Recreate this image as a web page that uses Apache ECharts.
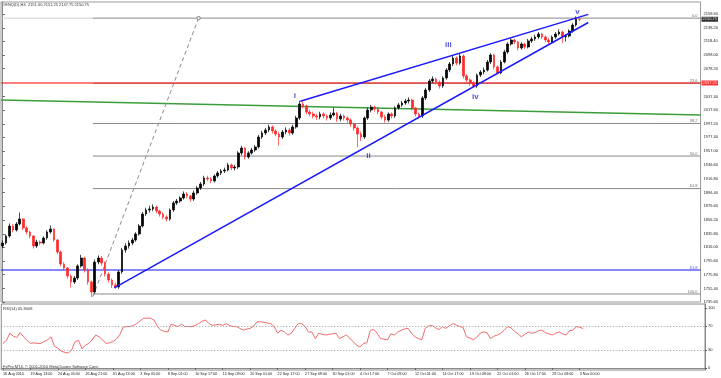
<!DOCTYPE html>
<html><head><meta charset="utf-8">
<script src="https://cdn.jsdelivr.net/npm/echarts@6/dist/echarts.min.js"></script>
<style>html,body{margin:0;padding:0;background:#fff}#c{width:721px;height:378px}</style>
</head><body><div id="c"></div>
<script>
const titleText = '#ENQ(D),H4  2151.00 2151.25 2147.75 2150.75';
const rsiTitle = 'RSI(14) 65.8008';
const copyright = 'FxPro MT4, \u00a9 2001-2010 MetaQuotes Software Corp.';
const timeLabels = ['16 Aug 2010','19 Aug 13:00','24 Aug 05:00','26 Aug 21:00','31 Aug 13:00','3 Sep 05:00','8 Sep 01:00','10 Sep 17:00','15 Sep 09:00','20 Sep 01:00','22 Sep 17:00','27 Sep 09:00','30 Sep 01:00','4 Oct 17:00','7 Oct 09:00','12 Oct 01:00','14 Oct 17:00','19 Oct 09:00','22 Oct 01:00','26 Oct 17:00','29 Oct 09:00','3 Nov 00:00'];
const labelEvery = 8;
const slotCount = 205;
const priceTicks = [2158.60,2138.20,2118.40,2098.00,2078.20,2037.40,2017.60,1997.20,1977.40,1957.00,1936.60,1916.80,1896.40,1876.60,1856.20,1835.80,1816.00,1795.60,1775.80,1755.40,1735.60];
const rsiTicks = [0,30,70,100];
const rsiLevels = [70,30];

const opens = [1818.0,1822.2,1832.5,1847.2,1841.3,1850.1,1857.5,1844.3,1838.4,1832.5,
1817.8,1823.7,1822.2,1829.6,1838.4,1842.8,1826.6,1809.0,1791.4,1785.5,
1773.8,1765.0,1770.8,1788.5,1800.2,1782.6,1765.0,1750.3,1794.3,1800.2,
1792.9,1776.7,1767.9,1760.6,1757.6,1779.7,1812.0,1817.8,1822.2,1826.6,
1835.5,1847.2,1864.8,1870.7,1872.2,1875.1,1869.2,1864.8,1860.4,1857.5,
1870.7,1881.0,1883.9,1888.3,1894.2,1891.3,1886.8,1895.7,1903.0,1908.9,
1917.7,1916.2,1913.3,1920.6,1925.0,1928.0,1929.4,1936.8,1932.4,1933.8,
1954.4,1961.7,1948.5,1954.4,1958.8,1963.2,1977.9,1983.8,1988.2,1992.6,
1986.7,1982.3,1977.9,1985.2,1988.2,1983.8,1992.6,2005.8,2026.3,2023.4,
2014.6,2011.7,2008.7,2007.3,2011.7,2008.7,2005.8,2010.2,2013.1,2004.3,
2008.7,2005.8,2002.8,1997.0,1991.1,1982.3,1977.9,2005.8,2017.5,2021.9,
2019.0,2014.6,2007.3,2002.8,2011.7,2008.7,2020.5,2024.9,2027.8,2030.7,
2032.2,2020.5,2011.7,2008.7,2035.2,2046.9,2060.1,2063.1,2058.6,2052.8,
2064.5,2076.3,2085.1,2093.9,2086.5,2096.8,2067.5,2061.6,2057.2,2052.8,
2068.9,2073.3,2076.3,2088.0,2098.3,2080.7,2071.9,2088.0,2102.7,2114.4,
2120.3,2117.4,2108.6,2114.4,2110.0,2118.9,2121.8,2124.7,2129.1,2124.7,
2120.3,2117.4,2124.7,2129.1,2132.1,2125.0,2126.2,2133.5,2142.3,2151.0];
const closes = [1822.2,1832.5,1847.2,1841.3,1850.1,1857.5,1844.3,1838.4,1832.5,1817.8,
1823.7,1822.2,1829.6,1838.4,1842.8,1826.6,1809.0,1791.4,1785.5,1773.8,
1765.0,1770.8,1788.5,1800.2,1782.6,1765.0,1750.3,1794.3,1800.2,1792.9,
1776.7,1767.9,1760.6,1757.6,1779.7,1812.0,1817.8,1822.2,1826.6,1835.5,
1847.2,1864.8,1870.7,1872.2,1875.1,1869.2,1864.8,1860.4,1857.5,1870.7,
1881.0,1883.9,1888.3,1894.2,1891.3,1886.8,1895.7,1903.0,1908.9,1917.7,
1916.2,1913.3,1920.6,1925.0,1928.0,1929.4,1936.8,1932.4,1933.8,1954.4,
1961.7,1948.5,1954.4,1958.8,1963.2,1977.9,1983.8,1988.2,1992.6,1986.7,
1982.3,1977.9,1985.2,1988.2,1983.8,1992.6,2005.8,2026.3,2023.4,2014.6,
2011.7,2008.7,2007.3,2011.7,2008.7,2005.8,2010.2,2013.1,2004.3,2008.7,
2005.8,2002.8,1997.0,1991.1,1982.3,1977.9,2005.8,2017.5,2021.9,2019.0,
2014.6,2007.3,2002.8,2011.7,2008.7,2020.5,2024.9,2027.8,2030.7,2032.2,
2020.5,2011.7,2008.7,2035.2,2046.9,2060.1,2063.1,2058.6,2052.8,2064.5,
2076.3,2085.1,2093.9,2086.5,2096.8,2067.5,2061.6,2057.2,2052.8,2068.9,
2073.3,2076.3,2088.0,2098.3,2080.7,2071.9,2088.0,2102.7,2114.4,2120.3,
2117.4,2108.6,2114.4,2110.0,2118.9,2121.8,2124.7,2129.1,2124.7,2120.3,
2117.4,2124.7,2129.1,2132.1,2125.0,2126.2,2133.5,2142.3,2151.0,2150.75];
const highs = [1826,1835,1851,1850,1853,1867,1859,1847,1840,1834,
1827,1826,1832,1841,1848,1844,1828,1811,1794,1787,
1776,1774,1791,1805,1802,1785,1767,1798,1804,1803,
1795,1779,1770,1764,1782,1815,1822,1826,1830,1838,
1850,1868,1874,1877,1879,1877,1871,1867,1863,1873,
1884,1887,1891,1898,1897,1893,1899,1906,1912,1921,
1921,1919,1923,1928,1931,1933,1940,1939,1937,1957,
1965,1963,1957,1962,1966,1981,1987,1991,1996,1995,
1989,1985,1988,1992,1991,1996,2009,2031,2030,2025,
2018,2015,2012,2015,2014,2011,2014,2021,2015,2012,
2011,2008,2005,1999,1993,1986,2008,2021,2025,2024,
2021,2016,2010,2014,2014,2023,2028,2031,2034,2036,
2034,2022,2014,2038,2050,2063,2067,2065,2061,2067,
2079,2088,2097,2096,2101,2099,2070,2064,2060,2071,
2076,2080,2091,2101,2100,2083,2091,2106,2117,2123,
2122,2119,2117,2116,2122,2125,2128,2132,2131,2127,
2123,2127,2132,2136,2134,2129,2136,2145,2155,2151.25];
const lows = [1815,1820,1830,1838,1839,1848,1841,1835,1829,1814,
1815,1819,1820,1827,1836,1824,1806,1788,1782,1770,
1757,1762,1768,1786,1779,1761,1743,1748,1791,1789,
1773,1764,1756,1755,1755,1777,1808,1814,1819,1824,
1833,1845,1862,1867,1869,1866,1861,1857,1854,1855,
1868,1878,1881,1886,1888,1883,1884,1893,1900,1906,
1913,1910,1911,1918,1922,1925,1927,1929,1929,1931,
1951,1945,1946,1952,1956,1961,1975,1981,1985,1983,
1979,1965,1975,1982,1980,1981,1990,2003,2020,2011,
2008,2005,2003,2004,2005,2002,2003,2008,2000,2001,
2002,1999,1993,1987,1963,1972,1975,2003,2014,2015,
2011,2004,1999,2000,2005,2006,2018,2022,2025,2027,
2017,2008,2005,2006,2032,2044,2057,2055,2049,2050,
2062,2073,2082,2083,2084,2064,2058,2053,2051,2050,
2066,2070,2074,2085,2077,2070,2070,2086,2100,2112,
2114,2105,2106,2107,2108,2116,2119,2122,2122,2117,
2114,2115,2122,2127,2116,2118,2124,2131,2140,2147.75];
const rsi = [41,46,58,53,51,59,52,46,41,42,
41,41,44,47,52,36,33,28,26,25,
30,44,46,32,38,41,47,55,52,47,
41,42,44,48,55,68,69,69,71,74,
79,83,83,83,80,69,63,61,60,73,
71,69,73,69,69,69,71,74,78,80,
74,71,72,73,71,74,71,69,69,66,
63,65,66,70,77,77,76,75,74,69,
58,63,60,55,58,66,74,74,69,60,
60,49,58,56,55,56,57,58,49,52,
55,50,44,38,35,41,42,63,64,58,
49,48,47,57,55,60,63,65,66,58,
52,49,47,66,70,71,67,64,69,66,
70,74,72,69,68,52,50,47,51,58,
60,59,49,53,55,58,63,69,67,61,
57,52,56,60,58,59,62,63,59,57,
55,58,60,57,55,62,63,69,68,65.8];

// drawn objects, in (bar index, price) units
const fibNames = ['0.0','23.6','38.2','50.0','61.8','100.0'];
const fibPrices = [2152.4,2056.8,1997.7,1949.9,1902.1,1747.35];
const fibStartBar = 26.4;
const fibDiagonal = [[26.4,1743.4],[57.4,2152.4]];
const redLinePrice = 2057.2;
const redLineText = '2057.25';
const blueLinePrice = 1782.6;
const blueLineName = '61.8';
const greenLine = [[-0.5,2032.2],[204.5,2010.2]];
const wedgeUpper = [[87.2,2030.5],[171.6,2157.9]];
const wedgeLower = [[32.7,1756.2],[171.6,2146.0]];
const waveNames = ['i','ii','iii','iv','v'];
const wavePos = [[85.6,2037.9],[107.2,1950.0],[130.6,2113.0],[138.5,2036.6],[168.4,2161.0]];
const lastPrice = 2150.75;

const FONT = 'Liberation Sans';
const cats = Array.from({length: slotCount}, (_, i) => (i % labelEvery === 0 && i / labelEvery < timeLabels.length) ? timeLabels[i / labelEvery] : '');
const candleData = opens.map((o, i) => [o, closes[i], lows[i], highs[i]]);
const xMin = -0.5, xMax = slotCount - 0.5;
const showLab = (i) => i % labelEvery === 0 && i / labelEvery < timeLabels.length;

function seg(data, color, width, type, z) {
  return {type:'line', xAxisIndex:1, yAxisIndex:0, data, symbol:'none', silent:true, animation:false,
    lineStyle:{color, width, type: type || 'solid'}, z: z || 3, clip:false};
}
function txt(points, names, color, size, weight, align, vAlign) {
  return {type:'scatter', xAxisIndex:1, yAxisIndex:0, symbolSize:0, silent:true, clip:false, z:10,
    data: points.map((p, i) => ({value:p, name:names[i]})),
    label:{show:true, position:[0,0], formatter:'{b}', color, fontSize:size, fontWeight:weight||'normal', fontFamily:FONT, align, verticalAlign:vAlign}};
}

const series = [];
series.push(seg([[xMin,fibPrices[0]],[fibStartBar,fibPrices[0]]], '#cfcfcf', 1));
fibPrices.forEach(p => series.push(seg([[fibStartBar,p],[xMax,p]], '#8a8a8a', 1)));
series.push(seg([[xMin,redLinePrice],[xMax,redLinePrice]], '#ff0000', 1.1, 'solid', 4));
series.push(seg([[xMin,blueLinePrice],[xMax,blueLinePrice]], '#1010ff', 1.2, 'solid', 4));
series.push(seg(greenLine, '#3a9d3a', 1.6, 'solid', 4));
series.push(seg(fibDiagonal, '#8a8a8a', 1, [4,3], 4));
series.push({type:'scatter', xAxisIndex:1, yAxisIndex:0, data:[fibDiagonal[1]], symbol:'circle', symbolSize:3.5, silent:true,
  itemStyle:{color:'#fff', borderColor:'#666', borderWidth:1}, z:6});
series.push({type:'candlestick', xAxisIndex:0, yAxisIndex:0, data:candleData, barWidth:2.2, silent:true, z:5,
  itemStyle:{color:'#000', color0:'#ff2a2a', borderColor:'#000', borderColor0:'#ff2a2a', borderWidth:0.7}});
series.push(seg(wedgeUpper, '#1a1aff', 1.5, 'solid', 7));
series.push(seg(wedgeLower, '#1a1aff', 1.5, 'solid', 7));
series.push(txt(wavePos, waveNames, '#1a1acc', 8, 'bold', 'center', 'middle'));
series.push(txt(fibPrices.map(p => [203.6, p + 0.8]), fibNames, '#444', 4, 'normal', 'right', 'bottom'));
series.push(txt([[203.6, blueLinePrice + 0.8]], [blueLineName], '#1a1aff', 4, 'normal', 'right', 'bottom'));
series.push({type:'scatter', xAxisIndex:1, yAxisIndex:0, symbolSize:0, silent:true, clip:false, z:12,
  data:[{value:[xMax,lastPrice], name:lastPrice.toFixed(2), itemStyle:{color:'#000'}}, {value:[xMax,redLinePrice], name:redLineText, itemStyle:{color:'#ff0000'}}],
  label:{show:true, position:[1,0], formatter:'{b}', color:'#fff', fontSize:4, fontFamily:FONT, align:'left', verticalAlign:'middle',
    backgroundColor:'inherit', padding:[1,1,0,1]}});
series.push({type:'line', xAxisIndex:2, yAxisIndex:1, data:rsi, symbol:'none', silent:true,
  lineStyle:{color:'#f26b6b', width:1},
  markLine:{symbol:'none', silent:true, label:{show:false}, lineStyle:{type:[1,2], color:'#9a9a9a', width:1},
    data: rsiLevels.map(v => ({yAxis:v}))}});

const option = {
  animation:false,
  backgroundColor:'#fff',
  grid:[
    {left:1, top:2, width:704, height:300, show:true, borderColor:'#9a9a9a', borderWidth:1, backgroundColor:'#fff'},
    {left:1, top:304, width:704, height:66, show:true, borderColor:'#8a8a8a', borderWidth:1, backgroundColor:'#fff'}
  ],
  xAxis:[
    {type:'category', gridIndex:0, data:cats, boundaryGap:true, axisLine:{show:false}, axisTick:{show:false}, axisLabel:{show:false}, splitLine:{show:false}},
    {type:'value', gridIndex:0, min:xMin, max:xMax, show:false},
    {type:'category', gridIndex:1, data:cats, boundaryGap:true,
      axisLine:{show:true, lineStyle:{color:'#8a8a8a'}},
      axisTick:{show:true, interval:(i)=>showLab(i), alignWithLabel:true, length:2, lineStyle:{color:'#666'}},
      axisLabel:{show:true, interval:(i)=>showLab(i), align:'left', fontSize:3.7, fontFamily:FONT, color:'#222', margin:2},
      splitLine:{show:false}}
  ],
  yAxis:[
    {type:'value', gridIndex:0, position:'right', min:1735.6, max:2176.1, scale:true,
      axisLine:{show:true, lineStyle:{color:'#8a8a8a'}},
      axisTick:{show:true, customValues:priceTicks, length:2, lineStyle:{color:'#555'}},
      axisLabel:{show:true, customValues:priceTicks, formatter:(v)=>Number(v).toFixed(2), fontSize:4, fontFamily:FONT, color:'#222', margin:3},
      splitLine:{show:false}},
    {type:'value', gridIndex:1, position:'right', min:-3.33, max:106.67,
      axisLine:{show:true, lineStyle:{color:'#8a8a8a'}},
      axisTick:{show:true, customValues:rsiTicks, length:2, lineStyle:{color:'#555'}},
      axisLabel:{show:true, customValues:rsiTicks, fontSize:4, fontFamily:FONT, color:'#222', margin:3},
      splitLine:{show:false}}
  ],
  graphic:[
    {type:'text', left:3, top:3, silent:true, style:{text:titleText, font:'4px "Liberation Sans"', fill:'#333'}},
    {type:'text', left:3, top:307, silent:true, style:{text:rsiTitle, font:'4px "Liberation Sans"', fill:'#333'}},
    {type:'text', left:3, top:365, silent:true, style:{text:copyright, font:'4px "Liberation Sans"', fill:'#333'}}
  ],
  series
};
const chart = echarts.init(document.getElementById('c'), null, {renderer:'canvas'});
chart.setOption(option);
</script></body></html>
